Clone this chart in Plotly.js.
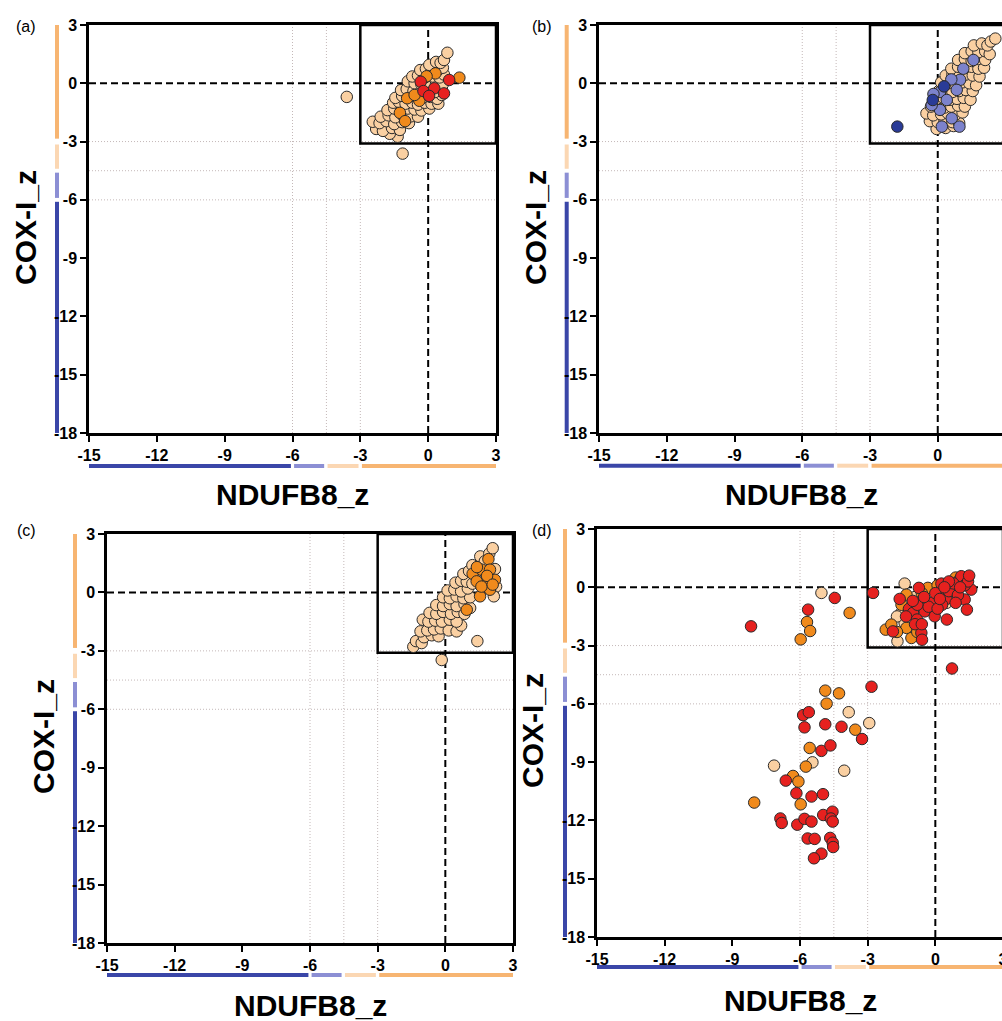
<!DOCTYPE html>
<html><head><meta charset="utf-8">
<script src="https://cdn.plot.ly/plotly-3.0.1.min.js"></script>
<style>html,body{margin:0;padding:0;overflow:hidden;background:#fff}#chart{width:1010px;height:1021px}</style>
</head><body><div id="chart"></div>
<script>
// ---------- tick labels ----------
const xTickVals = [-15, -12, -9, -6, -3, 0, 3];
const yTickVals = [3, 0, -3, -6, -9, -12, -15, -18];
const xTitle = 'NDUFB8_z';
const yTitle = 'COX-I_z';
const panelLabels = ['(a)', '(b)', '(c)', '(d)'];

// ---------- panel (a) ----------
const aPeachX = [-1.35,-1.7,-2.3,-2.0,-1.6,-1.25,-2.45,-2.15,-1.85,-1.5,-1.15,-0.85,-2.1,-1.75,-1.45,-1.1,-0.75,-0.45,-1.8,-1.5,-1.2,-0.9,-0.6,-0.3,0.05,-1.55,-1.3,-1.0,-0.7,-0.45,-0.15,0.15,0.45,-1.45,-1.15,-0.85,-0.55,-0.25,0.1,0.4,0.6,-1.2,-0.95,-0.65,-0.35,-0.05,0.3,0.6,-0.9,-0.6,-0.3,0.0,0.35,0.65,-0.7,-0.45,-0.15,0.2,0.5,0.7,-0.35,-0.1,0.15,0.45,0.65,0.05,0.35,0.55,0.7,0.85,-3.6,-1.13];
const aPeachY = [-2.75,-2.6,-2.35,-2.45,-2.3,-2.4,-1.98,-2.05,-1.95,-2.1,-2.0,-2.05,-1.72,-1.65,-1.75,-1.68,-1.7,-1.72,-1.38,-1.3,-1.4,-1.3,-1.35,-1.4,-1.3,-1.0,-0.95,-1.05,-1.0,-1.1,-1.0,-1.05,-1.05,-0.75,-0.65,-0.7,-0.65,-0.75,-0.7,-0.8,-0.6,-0.35,-0.3,-0.4,-0.3,-0.35,-0.45,-0.3,0.1,0.0,-0.05,0.05,0.0,-0.05,0.35,0.4,0.3,0.35,0.3,0.45,0.68,0.75,0.65,0.7,0.8,0.95,1.1,1.05,1.2,1.57,-0.7,-3.62];
const aOrangeX = [1.38,0.32,-0.07,-0.93,-0.39,-0.6,-1.25,-1.02];
const aOrangeY = [0.29,0.51,0.36,-0.77,-0.9,-0.6,-1.52,-1.95];
const aRedX = [0.93,-0.33,-0.21,0.27,0.04,0.7];
const aRedY = [0.17,0.08,-0.4,-0.26,-0.65,-0.52];

// ---------- panel (b) ----------
const bPeachX = [-0.05,0.35,0.7,-0.35,0.0,0.3,0.65,0.95,-0.5,-0.2,0.15,0.45,0.8,1.1,-0.3,0.0,0.3,0.6,0.9,1.2,-0.05,0.25,0.55,0.85,1.15,1.45,0.05,0.35,0.65,0.95,1.25,1.55,0.15,0.45,0.8,1.1,1.4,1.7,0.35,0.65,0.95,1.25,1.55,1.85,0.6,0.9,1.2,1.5,1.8,2.05,0.9,1.2,1.5,1.8,2.1,1.2,1.5,1.8,2.1,2.3,1.6,1.95,2.2,2.35,2.55];
const bPeachY = [-2.35,-2.3,-2.2,-1.95,-2.0,-1.95,-2.0,-2.05,-1.55,-1.65,-1.6,-1.55,-1.6,-1.5,-1.2,-1.15,-1.25,-1.2,-1.15,-1.2,-0.8,-0.75,-0.85,-0.8,-0.75,-0.85,-0.4,-0.35,-0.45,-0.4,-0.35,-0.4,0.05,0.0,-0.05,0.05,0.0,-0.1,0.4,0.45,0.35,0.45,0.4,0.35,0.75,0.85,0.8,0.85,0.75,0.8,1.2,1.25,1.15,1.25,1.2,1.55,1.65,1.6,1.65,1.5,1.95,2.05,1.95,2.15,2.3];
const bPurpleX = [1.58,1.13,0.99,0.6,0.84,0.1,-0.19,0.4,0.1,-0.27,0.62,0.18,0.96];
const bPurpleY = [1.2,0.75,0.18,0.2,-0.34,-0.45,-0.55,-0.86,-1.37,-1.12,-1.8,-2.23,-2.23];
const bBlueX = [-1.79,0.28,-0.22];
const bBlueY = [-2.23,-0.16,-0.86];

// ---------- panel (c) ----------
const cPeachX = [-1.42,-1.3,-1.05,-0.95,-0.6,-0.3,-1.1,-0.8,-0.5,-0.2,0.15,0.5,0.7,-1.0,-0.75,-0.45,-0.15,0.2,0.5,-0.7,-0.4,-0.1,0.25,0.55,0.85,-0.4,-0.1,0.2,0.5,0.85,1.1,-0.1,0.2,0.5,0.8,1.1,0.1,0.4,0.7,1.0,0.45,0.7,0.95,1.2,0.8,1.05,1.3,1.2,1.45,1.55,1.75,1.95,2.1,2.2,2.25,2.15,1.42,-0.16];
const cPeachY = [-2.79,-2.5,-2.6,-2.3,-2.2,-2.25,-2.0,-1.95,-1.9,-1.85,-1.95,-2.0,-1.7,-1.4,-1.5,-1.45,-1.5,-1.4,-1.5,-1.05,-1.1,-1.0,-1.1,-1.0,-1.1,-0.65,-0.7,-0.6,-0.7,-0.6,-0.8,-0.25,-0.3,-0.2,-0.3,-0.25,0.1,0.15,0.05,0.2,0.5,0.6,0.55,0.45,0.95,1.1,0.9,1.4,1.3,1.85,1.6,2.0,2.27,1.2,0.3,-0.2,-2.5,-3.47];
const cOrangeX = [1.91,1.21,1.61,1.98,2.2,1.76,1.39,1.98,1.54,0.95,1.4,1.85,1.6,2.1];
const cOrangeY = [1.71,0.96,1.17,1.17,0.65,0.48,0.57,0.14,-0.2,-0.89,1.3,0.85,0.3,0.4];

// ---------- panel (d) ----------
const dPeachX = [-1.36,-1.51,-1.36,-1.68,-0.9,0.5,1.2,-1.1,-1.7,-5.05,-3.84,-2.93,-5.45,-7.15,-4.04];
const dPeachY = [0.19,-1.32,-1.84,-2.78,-0.5,-0.8,0.5,-1.6,-1.5,-0.29,-6.43,-6.99,-9.01,-9.18,-9.44];
const dOrangeX = [-1.28,-0.33,-2.2,-1.95,-1.06,-1.28,-1.5,-0.6,0.1,0.9,-1.7,-0.8,-5.69,-5.55,-5.97,-3.8,-4.88,-4.27,-4.82,-3.55,-5.57,-5.74,-6.31,-6.07,-5.97,-8.03];
const dOrangeY = [-0.38,-0.03,-2.18,-1.92,-2.61,-2.09,-0.9,-0.3,0.1,0.5,-2.3,-2.3,-1.79,-2.25,-2.68,-1.32,-5.32,-5.46,-5.99,-7.33,-8.27,-9.23,-9.71,-10.0,-11.17,-11.08];
const dRedX = [-2.76,-0.73,0.27,-1.58,-0.55,-0.18,0.27,0.49,0.85,1.08,1.37,1.59,1.22,1.15,1.3,1.4,-1.17,-0.99,-0.81,-0.47,-0.03,0.51,-0.62,-0.59,-1.88,0.0,0.3,0.6,0.8,1.0,1.3,0.6,-0.3,-0.8,0.1,0.9,1.45,1.5,1.1,0.4,-0.5,-1.0,-1.3,-0.9,-0.6,0.2,
  -8.17,-4.46,-5.64,0.74,-2.83,-5.86,-5.61,-5.8,-4.88,-4.16,-3.25,-5.05,-4.65,-6.63,-6.16,-5.49,-4.98,-6.87,-6.81,-6.12,-5.8,-5.49,-4.97,-4.56,-4.63,-4.55,-5.66,-5.35,-4.66,-4.55,-4.53,-5.05,-5.38];
const dRedY = [-0.29,-0.03,0.19,-0.6,-0.72,-0.8,-0.46,-0.6,-0.21,0.4,0.48,-0.12,0.23,0.57,-0.63,-1.15,-1.11,-1.32,-1.66,-1.24,-1.49,-1.66,-2.35,-2.7,-2.27,-0.3,-0.9,-0.2,0.2,-0.4,0.1,0.3,-1.0,-0.9,-1.1,-0.8,0.3,0.6,0.0,0.0,-0.5,-0.7,-1.5,-1.9,-1.9,-0.6,
  -2.01,-0.55,-1.15,-4.18,-5.12,-6.58,-6.43,-7.21,-7.05,-7.18,-7.81,-8.42,-8.14,-9.95,-10.6,-10.77,-10.65,-11.9,-12.13,-12.22,-11.92,-12.06,-11.72,-11.55,-11.9,-12.06,-12.93,-12.95,-12.9,-13.15,-13.37,-13.71,-13.95];

// ---------- colour scale thresholds (bars beside the axes) ----------
const xBands = [[-15,-6.07],[-5.93,-4.6],[-4.45,-3.08],[-2.93,3]];
const yBands = [[-18,-6.1],[-5.9,-4.6],[-4.4,-3.15],[-2.85,3]];
const bandColors = ['#3a46a8','#8c8fd4','#fbd7b3','#f7b572'];
const gridVals = [-6, -4.5, -3];

const C = {peach:'#fad0a2', orange:'#f08a1c', red:'#e6211f', purple:'#7c82cc', blue:'#2a3b97'};
const W = 1010, H = 1021;
const FONT = 'Liberation Sans, Arial, sans-serif';

const panels = [
  {xa:'x',  ya:'y',  dom:[[89,496],[25,433]],     barX:57,    barY:466,   lab:[26,27],   xt:[292.5,495], yt:[25,228]},
  {xa:'x2', ya:'y2', dom:[[599,1005.5],[25,433]], barX:566.7, barY:465.7, lab:[542,27],  xt:[801,495],   yt:[535,228]},
  {xa:'x3', ya:'y3', dom:[[107,513],[534,943]],   barX:75,    barY:975,   lab:[26,530],  xt:[310,1005],  yt:[43,737]},
  {xa:'x4', ya:'y4', dom:[[597,1003],[529,937]],  barX:565,   barY:967,   lab:[542,530], xt:[800,1000],  yt:[532,731]}
];
const panelSeries = [
  [[aPeachX,aPeachY,C.peach],[aOrangeX,aOrangeY,C.orange],[aRedX,aRedY,C.red]],
  [[bPeachX,bPeachY,C.peach],[bPurpleX,bPurpleY,C.purple],[bBlueX,bBlueY,C.blue]],
  [[cPeachX,cPeachY,C.peach],[cOrangeX,cOrangeY,C.orange]],
  [[dPeachX,dPeachY,C.peach],[dOrangeX,dOrangeY,C.orange],[dRedX,dRedY,C.red]]
];

const traces = [], shapes = [], annotations = [];
const layout = {width:W, height:H, margin:{l:0,r:0,t:0,b:0}, showlegend:false,
  paper_bgcolor:'#fff', plot_bgcolor:'#fff', font:{family:FONT, color:'#000'}};

const tickFont = {family:FONT, size:16, weight:700, color:'#000'};
const titleFont = {family:FONT, size:30, weight:700, color:'#000'};

panels.forEach((p, i) => {
  const xk = 'xaxis' + (i ? i+1 : ''), yk = 'yaxis' + (i ? i+1 : '');
  const common = {showline:true, linewidth:2.5, linecolor:'#000', mirror:true, showgrid:false, zeroline:false,
    ticks:'outside', ticklen:6, tickwidth:2, tickcolor:'#000', tickfont:tickFont, fixedrange:true};
  layout[xk] = Object.assign({}, common, {domain:[p.dom[0][0]/W, p.dom[0][1]/W], range:[-15,3],
    tickvals:xTickVals, ticktext:xTickVals.map(String), anchor:p.ya});
  layout[yk] = Object.assign({}, common, {domain:[1-p.dom[1][1]/H, 1-p.dom[1][0]/H], range:[-18,3],
    tickvals:yTickVals, ticktext:yTickVals.map(String), anchor:p.xa});

  gridVals.forEach(v => {
    shapes.push({type:'line', xref:p.xa, yref:p.ya, x0:v, x1:v, y0:-18, y1:3, layer:'below',
      line:{color:'#c4b8b8', width:1, dash:'1px,2px'}});
    shapes.push({type:'line', xref:p.xa, yref:p.ya, x0:-15, x1:3, y0:v, y1:v, layer:'below',
      line:{color:'#c4b8b8', width:1, dash:'1px,2px'}});
  });
  shapes.push({type:'line', xref:p.xa, yref:p.ya, x0:0, x1:0, y0:-18, y1:3, layer:'below', line:{color:'#000', width:2, dash:'7px,4px'}});
  shapes.push({type:'line', xref:p.xa, yref:p.ya, x0:-15, x1:3, y0:0, y1:0, layer:'below', line:{color:'#000', width:2, dash:'7px,4px'}});
  shapes.push({type:'rect', xref:p.xa, yref:p.ya, x0:-3, x1:3, y0:-3.1, y1:3, layer:'below', line:{color:'#000', width:2.5}});
  xBands.forEach((b, k) => shapes.push({type:'line', xref:p.xa, yref:'paper', x0:b[0], x1:b[1],
    y0:1-p.barY/H, y1:1-p.barY/H, layer:'below', line:{color:bandColors[k], width:4}}));
  yBands.forEach((b, k) => shapes.push({type:'line', xref:'paper', yref:p.ya, x0:p.barX/W, x1:p.barX/W,
    y0:b[0], y1:b[1], layer:'below', line:{color:bandColors[k], width:4}}));

  panelSeries[i].forEach(s => traces.push({type:'scatter', mode:'markers', x:s[0], y:s[1], xaxis:p.xa, yaxis:p.ya,
    hoverinfo:'x+y', marker:{size:11.5, color:s[2], line:{color:'#2a2a2a', width:1}}}));

  annotations.push({xref:'paper', yref:'paper', x:p.lab[0]/W, y:1-p.lab[1]/H, text:panelLabels[i], showarrow:false,
    xanchor:'center', yanchor:'middle', font:{family:FONT, size:16, color:'#000'}});
  annotations.push({xref:'paper', yref:'paper', x:p.xt[0]/W, y:1-p.xt[1]/H, text:xTitle, showarrow:false,
    xanchor:'center', yanchor:'middle', font:titleFont});
  annotations.push({xref:'paper', yref:'paper', x:p.yt[0]/W, y:1-p.yt[1]/H, text:yTitle, showarrow:false, textangle:-90,
    xanchor:'center', yanchor:'middle', font:titleFont});
});
layout.shapes = shapes;
layout.annotations = annotations;

Plotly.newPlot('chart', traces, layout, {displayModeBar:false});
</script></body></html>
